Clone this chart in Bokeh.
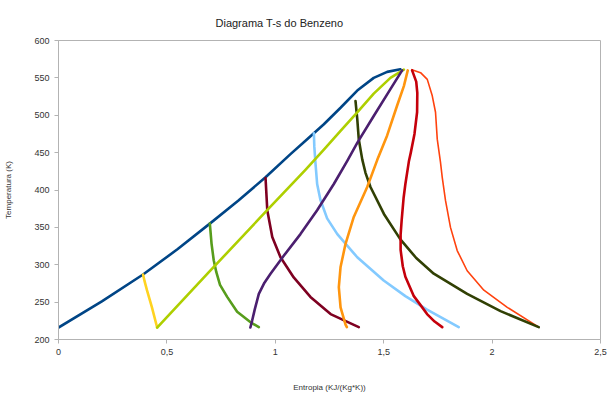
from bokeh.plotting import figure
from bokeh.models import FixedTicker, Range1d
from bokeh.embed import file_html
from bokeh.resources import INLINE

# Saturated liquid line
s_liq = [0.0, 0.2, 0.39, 0.55, 0.698, 0.83, 0.955, 1.07, 1.147, 1.224, 1.301, 1.378, 1.454, 1.516, 1.577]
T_liq = [216, 251, 287, 321, 355, 386, 417, 448, 468, 488, 510, 533, 550, 558, 561.5]

s_orange_red = [1.63, 1.67, 1.701, 1.724, 1.739, 1.747, 1.762, 1.770, 1.785, 1.808, 1.839, 1.885, 1.962, 2.07, 2.215]
T_orange_red = [561, 557, 548, 526, 504, 468, 437, 417, 386, 350, 319, 292, 266, 243, 216.5]

s_yellow = [0.39, 0.397, 0.408, 0.431, 0.455]
T_yellow = [287, 278, 266, 243, 216]

s_green = [0.698, 0.701, 0.706, 0.716, 0.728, 0.745, 0.778, 0.824, 0.886, 0.924]
T_green = [355, 345, 328, 306, 290, 273, 257, 237, 223, 216.5]

s_maroon = [0.955, 0.963, 0.986, 1.024, 1.085, 1.162, 1.255, 1.385]
T_maroon = [416, 373, 337, 310, 283, 257, 234, 216.5]

s_lightblue = [1.178, 1.18, 1.185, 1.193, 1.208, 1.239, 1.286, 1.378, 1.5, 1.6, 1.7, 1.846]
T_lightblue = [476, 458, 437, 408, 387, 362, 341, 310, 279, 258, 240, 216.5]

s_olive = [1.37, 1.378, 1.385, 1.401, 1.416, 1.439, 1.501, 1.577, 1.65, 1.731, 1.885, 2.039, 2.215]
T_olive = [519, 495, 468, 441, 423, 404, 368, 334, 309, 288, 261, 238, 216.5]

s_yellowgreen = [0.455, 0.7, 0.969, 1.139, 1.224, 1.301, 1.378, 1.454, 1.531, 1.593]
T_yellowgreen = [216, 292, 375, 427, 454, 479, 504, 529, 550, 561]

s_purple = [0.885, 0.893, 0.905, 0.924, 0.95, 0.978, 1.039, 1.116, 1.193, 1.27, 1.332, 1.378, 1.454, 1.531, 1.585]
T_purple = [216, 225, 240, 261, 276, 288, 312, 341, 373, 408, 439, 463, 499, 535, 560]

s_orange = [1.33, 1.324, 1.301, 1.293, 1.301, 1.324, 1.362, 1.424, 1.47, 1.516, 1.562, 1.593, 1.611]
T_orange = [216.5, 220, 243, 270, 297, 328, 364, 404, 440, 473, 513, 539, 560]

s_red = [1.631, 1.65, 1.655, 1.654, 1.642, 1.625, 1.616, 1.60, 1.592, 1.583, 1.578, 1.578, 1.588, 1.60, 1.639, 1.67, 1.70, 1.735, 1.77]
T_red = [560, 545, 530, 504, 475, 450, 438, 408, 390, 360, 340, 320, 298, 284, 258, 246, 234, 224, 216.5]

x_ticks = [0, 0.5, 1, 1.5, 2, 2.5]
x_tick_labels = ["0", "0,5", "1", "1,5", "2", "2,5"]
y_ticks = [200, 250, 300, 350, 400, 450, 500, 550, 600]

series = [
    (s_liq, T_liq, "#004586", 2.6),
    (s_orange_red, T_orange_red, "#ff420e", 1.6),
    (s_yellow, T_yellow, "#ffd320", 2.6),
    (s_green, T_green, "#579d1c", 2.6),
    (s_maroon, T_maroon, "#7e0021", 2.6),
    (s_lightblue, T_lightblue, "#83caff", 2.6),
    (s_olive, T_olive, "#314004", 2.6),
    (s_yellowgreen, T_yellowgreen, "#aecf00", 2.6),
    (s_purple, T_purple, "#4b1f6f", 2.6),
    (s_orange, T_orange, "#ff950e", 2.6),
    (s_red, T_red, "#c5000b", 2.6),
]

p = figure(width=607, height=394, output_backend="svg", toolbar_location=None,
           x_range=Range1d(0, 2.5), y_range=Range1d(200, 600),
           min_border_left=58, min_border_right=7, min_border_top=40, min_border_bottom=55)

p.title.text = "Diagrama T-s do Benzeno"
p.title.align = "left"
p.title.offset = 157
p.title.standoff = 24
p.title.text_font = "Liberation Sans"
p.title.text_font_size = "11px"
p.title.text_font_style = "normal"
p.title.text_color = "#222222"

for xs, ys, c, w in series:
    p.line(xs, ys, line_color=c, line_width=w, line_join="round", line_cap="round")

p.xgrid.visible = False
p.ygrid.visible = False
p.outline_line_color = "#b3b3b3"
p.outline_line_width = 1
p.background_fill_color = "white"
p.border_fill_color = "white"

p.xaxis.ticker = FixedTicker(ticks=x_ticks)
p.xaxis.major_label_overrides = {t: l for t, l in zip(x_ticks, x_tick_labels)}
p.yaxis.ticker = FixedTicker(ticks=y_ticks)

for ax in (p.xaxis, p.yaxis):
    ax.axis_line_color = "#b3b3b3"
    ax.major_tick_line_color = "#b3b3b3"
    ax.major_tick_out = 4
    ax.major_tick_in = 0
    ax.minor_tick_line_color = None
    ax.major_label_text_font = "Liberation Sans"
    ax.major_label_text_font_size = "9px"
    ax.major_label_text_color = "#333333"
    ax.axis_label_text_font = "Liberation Sans"
    ax.axis_label_text_font_size = "8px"
    ax.axis_label_text_font_style = "normal"
    ax.axis_label_text_color = "#333333"

p.xaxis.axis_label = "Entropia (KJ/(Kg*K))"
p.yaxis.axis_label = "Temperatura (K)"
p.xaxis.axis_label_standoff = 25
p.yaxis.axis_label_standoff = 18
p.xaxis.major_label_standoff = 5
p.yaxis.major_label_standoff = 5

open("out.html", "w").write(file_html(p, INLINE))
